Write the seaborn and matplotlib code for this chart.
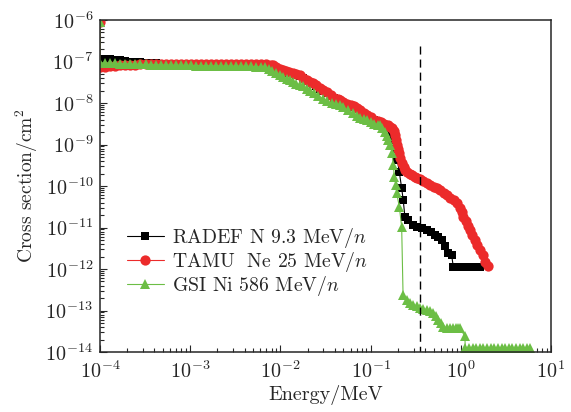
import matplotlib
matplotlib.use("Agg")
import matplotlib.pyplot as plt
import seaborn as sns
import pandas as pd
from matplotlib.ticker import LogLocator, NullFormatter

# ---------------- data ----------------
plateau_E = [1.0e-4, 1.14e-4, 1.3e-4, 1.48e-4, 1.68e-4, 1.91e-4, 2.17e-4, 2.47e-4, 2.81e-4,
             3.2e-4, 3.64e-4, 4.14e-4, 4.7e-4, 5.35e-4, 6.08e-4, 6.91e-4, 7.86e-4, 8.94e-4,
             1.02e-3, 1.16e-3, 1.31e-3, 1.49e-3, 1.7e-3, 1.93e-3, 2.2e-3, 2.5e-3, 2.84e-3,
             3.23e-3, 3.68e-3, 4.18e-3, 4.76e-3, 5.41e-3, 6.15e-3, 7.0e-3, 7.96e-3]

radef_E = plateau_E + [
    8.3e-3, 9.0e-3, 9.8e-3, 1.07e-2, 1.16e-2, 1.26e-2, 1.37e-2, 1.5e-2, 1.65e-2, 1.8e-2,
    1.95e-2, 2.12e-2, 2.3e-2, 2.5e-2, 2.72e-2, 2.98e-2, 3.29e-2, 3.6e-2, 3.95e-2, 4.3e-2,
    4.6e-2, 5.0e-2, 5.5e-2, 6.0e-2, 6.5e-2, 7.1e-2, 7.7e-2, 8.4e-2, 9.1e-2, 0.1,
    0.11, 0.12, 0.13, 0.142, 0.155, 0.165, 0.172, 0.179, 0.187, 0.198,
    0.208, 0.221, 0.230, 0.240, 0.262, 0.297, 0.33, 0.368, 0.422, 0.47,
    0.518, 0.56, 0.614, 0.668, 0.727, 0.79, 0.826, 0.9, 1.0, 1.1,
    1.2, 1.35, 1.5, 1.63]
radef_sigma = [
    1.18e-7, 1.15e-7, 1.12e-7, 1.09e-7, 1.06e-7, 1.03e-7, 1.0e-7, 9.8e-8, 9.6e-8,
    9.4e-8, 9.2e-8, 9.0e-8, 8.9e-8, 8.8e-8, 8.7e-8, 8.6e-8, 8.6e-8, 8.5e-8,
    8.5e-8, 8.5e-8, 8.4e-8, 8.4e-8, 8.4e-8, 8.4e-8, 8.3e-8, 8.3e-8, 8.3e-8,
    8.3e-8, 8.3e-8, 8.3e-8, 8.3e-8, 8.3e-8, 8.3e-8, 8.2e-8, 8.1e-8,
    8.0e-8, 7.1e-8, 6.4e-8, 6.0e-8, 5.7e-8, 5.4e-8, 5.1e-8, 4.7e-8, 4.4e-8, 3.95e-8,
    3.45e-8, 3.1e-8, 2.9e-8, 2.6e-8, 2.2e-8, 1.97e-8, 1.72e-8, 1.5e-8, 1.3e-8, 1.17e-8,
    1.1e-8, 1.0e-8, 9.2e-9, 8.6e-9, 8.1e-9, 7.3e-9, 6.3e-9, 5.5e-9, 4.9e-9, 4.3e-9,
    3.85e-9, 3.55e-9, 3.25e-9, 2.95e-9, 2.75e-9, 2.5e-9, 1.84e-9, 1.27e-9, 8.0e-10, 4.2e-10,
    2.2e-10, 8.8e-11, 4.6e-11, 1.8e-11, 1.5e-11, 1.15e-11, 1.05e-11, 9.6e-12, 8.7e-12, 7.6e-12,
    6.6e-12, 5.8e-12, 5.0e-12, 3.5e-12, 2.4e-12, 2.2e-12, 1.14e-12, 1.14e-12, 1.14e-12, 1.14e-12,
    1.14e-12, 1.14e-12, 1.14e-12, 1.14e-12]

tamu_E = [1.0e-4] + plateau_E + [
    8.3e-3, 9.0e-3, 9.8e-3, 1.07e-2, 1.16e-2, 1.26e-2, 1.37e-2, 1.5e-2, 1.65e-2, 1.8e-2,
    1.95e-2, 2.12e-2, 2.3e-2, 2.5e-2, 2.72e-2, 2.98e-2, 3.29e-2, 3.6e-2, 3.95e-2, 4.3e-2,
    4.6e-2, 5.0e-2, 5.5e-2, 6.0e-2, 6.5e-2, 7.1e-2, 7.7e-2, 8.4e-2, 9.1e-2, 0.1,
    0.11, 0.12, 0.13, 0.142, 0.155, 0.165, 0.172, 0.18, 0.187, 0.192,
    0.196, 0.202, 0.208, 0.214, 0.221, 0.232, 0.243, 0.254, 0.27, 0.29,
    0.31, 0.33, 0.355, 0.385, 0.42, 0.455, 0.5, 0.545, 0.59, 0.645,
    0.70, 0.76, 0.83, 0.91, 0.97, 1.02, 1.07, 1.13, 1.2, 1.26,
    1.33, 1.44, 1.53, 1.63, 1.75, 1.85, 2.0]
tamu_sigma = [9.0e-7,
    7.3e-8, 7.5e-8, 7.7e-8, 7.9e-8, 8.1e-8, 8.2e-8, 8.3e-8, 8.4e-8, 8.5e-8,
    8.5e-8, 8.5e-8, 8.5e-8, 8.5e-8, 8.5e-8, 8.5e-8, 8.5e-8, 8.5e-8, 8.5e-8,
    8.5e-8, 8.5e-8, 8.5e-8, 8.5e-8, 8.5e-8, 8.5e-8, 8.5e-8, 8.5e-8, 8.5e-8,
    8.5e-8, 8.5e-8, 8.5e-8, 8.5e-8, 8.5e-8, 8.5e-8, 8.5e-8, 8.4e-8,
    8.2e-8, 7.3e-8, 6.6e-8, 6.2e-8, 5.9e-8, 5.6e-8, 5.3e-8, 4.9e-8, 4.6e-8, 4.1e-8,
    3.6e-8, 3.2e-8, 3.0e-8, 2.7e-8, 2.3e-8, 2.05e-8, 1.8e-8, 1.55e-8, 1.35e-8, 1.22e-8,
    1.15e-8, 1.05e-8, 9.6e-9, 9.0e-9, 8.5e-9, 7.6e-9, 6.6e-9, 5.7e-9, 5.1e-9, 4.5e-9,
    4.0e-9, 3.7e-9, 3.4e-9, 3.1e-9, 2.9e-9, 2.7e-9, 2.5e-9, 2.1e-9, 1.67e-9, 1.25e-9,
    9.6e-10, 7.8e-10, 6.2e-10, 4.8e-10, 3.6e-10, 2.8e-10, 2.4e-10, 2.16e-10, 1.95e-10, 1.8e-10,
    1.65e-10, 1.55e-10, 1.45e-10, 1.32e-10, 1.17e-10, 1.05e-10, 9.6e-11, 8.9e-11, 7.9e-11, 6.8e-11,
    6.0e-11, 5.2e-11, 4.5e-11, 3.9e-11, 3.0e-11, 2.3e-11, 1.8e-11, 1.4e-11, 1.1e-11, 8.7e-12,
    6.7e-12, 5.0e-12, 3.8e-12, 2.9e-12, 2.2e-12, 1.5e-12, 1.15e-12]

gsi_E = [1.0e-4] + plateau_E[:33] + [
    6.74e-3, 7.4e-3, 8.1e-3, 8.9e-3, 9.9e-3, 1.08e-2, 1.18e-2, 1.28e-2, 1.38e-2, 1.5e-2,
    1.63e-2, 1.78e-2, 1.97e-2, 2.15e-2, 2.35e-2, 2.6e-2, 2.96e-2, 3.3e-2, 3.7e-2, 4.1e-2,
    4.58e-2, 5.0e-2, 5.6e-2, 6.38e-2, 7.0e-2, 7.7e-2, 8.4e-2, 9.12e-2, 0.1, 0.11,
    0.12, 0.127, 0.135, 0.145, 0.152, 0.157, 0.164, 0.174, 0.178, 0.184,
    0.190, 0.195, 0.208, 0.221, 0.229, 0.251, 0.275, 0.297, 0.325, 0.353,
    0.385, 0.419, 0.455, 0.495, 0.53, 0.564, 0.60, 0.64, 0.70, 0.76,
    0.82, 0.88, 0.94, 0.98, 1.11, 1.12, 1.23, 1.35, 1.48, 1.62,
    1.78, 1.95, 2.14, 2.35, 2.58, 2.83, 3.1, 3.4, 3.73, 4.1,
    4.5, 4.94, 5.4, 5.85]
gsi_sigma = [9.0e-7,
    9.3e-8, 9.2e-8, 9.1e-8, 9.0e-8, 8.9e-8, 8.8e-8, 8.7e-8, 8.6e-8, 8.55e-8,
    8.5e-8, 8.45e-8, 8.4e-8, 8.35e-8, 8.3e-8, 8.25e-8, 8.2e-8, 8.15e-8, 8.1e-8,
    8.05e-8, 8.0e-8, 8.0e-8, 7.95e-8, 7.9e-8, 7.9e-8, 7.85e-8, 7.85e-8, 7.8e-8,
    7.8e-8, 7.75e-8, 7.7e-8, 7.6e-8, 7.5e-8, 7.45e-8,
    7.3e-8, 6.6e-8, 5.8e-8, 5.2e-8, 4.6e-8, 4.2e-8, 3.8e-8, 3.5e-8, 3.2e-8, 2.9e-8,
    2.7e-8, 2.5e-8, 2.22e-8, 1.95e-8, 1.7e-8, 1.5e-8, 1.28e-8, 1.12e-8, 1.0e-8, 9.3e-9,
    8.8e-9, 7.8e-9, 6.6e-9, 5.6e-9, 4.9e-9, 4.4e-9, 4.1e-9, 3.8e-9, 3.5e-9, 3.2e-9,
    3.0e-9, 2.9e-9, 2.5e-9, 2.0e-9, 1.6e-9, 1.3e-9, 9.6e-10, 6.1e-10, 3.2e-10, 1.66e-10,
    1.05e-10, 6.6e-11, 3.2e-11, 1.04e-11, 2.4e-13, 1.8e-13, 1.55e-13, 1.37e-13, 1.25e-13, 1.16e-13,
    1.1e-13, 1.04e-13, 9.5e-14, 8.8e-14, 7.2e-14, 6.0e-14, 5.0e-14, 4.1e-14, 3.8e-14, 3.77e-14,
    3.77e-14, 3.77e-14, 3.77e-14, 3.77e-14, 2.4e-14, 1.27e-14, 1.27e-14, 1.27e-14, 1.27e-14, 1.27e-14,
    1.27e-14, 1.27e-14, 1.27e-14, 1.27e-14, 1.27e-14, 1.27e-14, 1.27e-14, 1.27e-14, 1.27e-14, 1.27e-14,
    1.27e-14, 1.27e-14, 1.27e-14, 1.27e-14]

series_labels = ["RADEF N 9.3 MeV/$n$", "TAMU  Ne 25 MeV/$n$", "GSI Ni 586 MeV/$n$"]
cutoff_E = [0.35, 0.35]
cutoff_sigma = [2.4e-7, 1.0e-14]

# ---------------- style ----------------
sns.set_style("ticks")
plt.rcParams["font.family"] = ["cmr10", "DejaVu Serif"]
plt.rcParams["mathtext.fontset"] = "cm"
plt.rcParams["axes.formatter.use_mathtext"] = True
plt.rcParams["axes.unicode_minus"] = True

fig = plt.figure(figsize=(5.71, 4.12), dpi=100)
ax = fig.add_axes([100 / 571, 1 - 352 / 412, 451 / 571, 332 / 412])

red = "#EC2B2B"
green = "#6CBE45"

df_r = pd.DataFrame({"E": radef_E, "s": radef_sigma})
df_t = pd.DataFrame({"E": tamu_E, "s": tamu_sigma})
df_g = pd.DataFrame({"E": gsi_E, "s": gsi_sigma})

sns.lineplot(data=df_r, x="E", y="s", ax=ax, sort=False, estimator=None, color="black",
             marker="s", markersize=5.4, markeredgewidth=0, linewidth=0.8, label=series_labels[0])
sns.lineplot(data=df_t, x="E", y="s", ax=ax, sort=False, estimator=None, color=red,
             marker="o", markersize=7.4, markeredgewidth=0, linewidth=0.8, label=series_labels[1])
sns.lineplot(data=df_g, x="E", y="s", ax=ax, sort=False, estimator=None, color=green,
             marker="^", markersize=7.4, markeredgewidth=0, linewidth=0.8, label=series_labels[2])

ax.plot(cutoff_E, cutoff_sigma, color="black", linewidth=1.0, dashes=(5.8, 3.6))

ax.set_xscale("log")
ax.set_yscale("log")
ax.set_xlim(1e-4, 1e1)
ax.set_ylim(1e-14, 1e-6)

ax.xaxis.set_major_locator(LogLocator(base=10, numticks=20))
ax.yaxis.set_major_locator(LogLocator(base=10, numticks=20))
ax.xaxis.set_minor_locator(LogLocator(base=10, subs=range(2, 10), numticks=200))
ax.yaxis.set_minor_locator(LogLocator(base=10, subs=range(2, 10), numticks=200))
ax.xaxis.set_minor_formatter(NullFormatter())
ax.yaxis.set_minor_formatter(NullFormatter())

ax.tick_params(which="both", direction="in", top=False, right=False, labelsize=14.5, width=0.8)
ax.tick_params(which="major", length=5)
ax.tick_params(axis="y", which="major", pad=5)
ax.tick_params(axis="x", which="major", pad=6)
ax.tick_params(which="minor", length=2.6)
for sp in ax.spines.values():
    sp.set_linewidth(1.1)
    sp.set_visible(True)

ax.set_xlabel("Energy/MeV", fontsize=14.5, labelpad=2)
ax.set_ylabel("Cross section/cm$^2$", fontsize=14, labelpad=4)

leg = ax.legend(loc="center left", bbox_to_anchor=(0.06, 0.271), frameon=False, fontsize=14.2,
                handlelength=1.85, handletextpad=0.45, labelspacing=0.0, borderpad=0,
                borderaxespad=0)

fig.savefig("out.png", dpi=100)
